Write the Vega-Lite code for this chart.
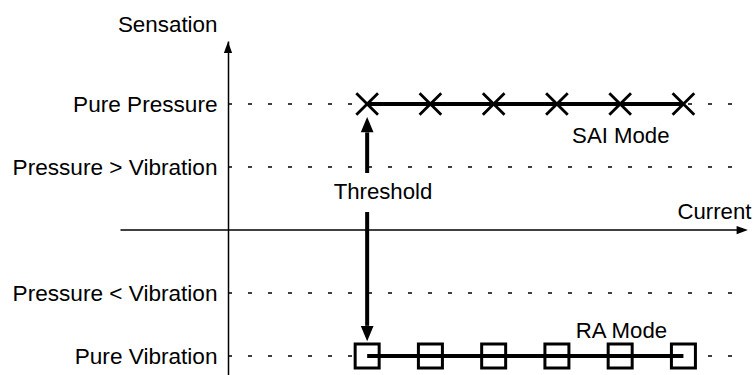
{
  "$schema": "https://vega.github.io/schema/vega-lite/v6.json",
  "width": 525,
  "height": 334,
  "autosize": {"type": "none"},
  "padding": {"left": 228, "top": 41, "right": 3, "bottom": 0},
  "background": "white",
  "config": {"view": {"stroke": null}, "font": "Liberation Sans"},
  "datasets": {
    "grid": [
      {"x": -1.2, "x2": 6.82, "y": 2},
      {"x": -1.2, "x2": 6.82, "y": 1},
      {"x": -1.2, "x2": 6.82, "y": -1},
      {"x": -1.2, "x2": 6.82, "y": -2}
    ],
    "xaxis": [{"x": -2.9, "x2": 6.85, "y": 0}],
    "shafts": [
      {"x": 1, "y": 0.905, "y2": 1.55},
      {"x": 1, "y": 0.286, "y2": -1.52}
    ],
    "heads": [
      {"x": 1, "y": 1.67, "dir": "up"},
      {"x": 1, "y": -1.64, "dir": "down"},
      {"x": -1.2, "y": 2.897, "dir": "axisup"},
      {"x": 6.93, "y": 0, "dir": "axisright"}
    ],
    "markers": [
      {"x": 1, "y": 2, "mode": "SAI"},
      {"x": 2, "y": 2, "mode": "SAI"},
      {"x": 3, "y": 2, "mode": "SAI"},
      {"x": 4, "y": 2, "mode": "SAI"},
      {"x": 5, "y": 2, "mode": "SAI"},
      {"x": 6, "y": 2, "mode": "SAI"},
      {"x": 1, "y": -2, "mode": "RA"},
      {"x": 2, "y": -2, "mode": "RA"},
      {"x": 3, "y": -2, "mode": "RA"},
      {"x": 4, "y": -2, "mode": "RA"},
      {"x": 5, "y": -2, "mode": "RA"},
      {"x": 6, "y": -2, "mode": "RA"}
    ],
    "notes": [
      {"x": 1.25, "y": 0.6, "text": "Threshold"},
      {"x": 6.49, "y": 0.29, "text": "Current"},
      {"x": 5.01, "y": 1.49, "text": "SAI Mode"},
      {"x": 5.02, "y": -1.6, "text": "RA Mode"}
    ]
  },
  "encoding": {
    "x": {"field": "x", "type": "quantitative", "scale": {"domain": [-1.2, 7.1], "nice": false, "zero": false}, "axis": null},
    "y": {
      "field": "y",
      "type": "quantitative",
      "scale": {"domain": [-2.3, 3], "nice": false, "zero": false},
      "axis": {
        "values": [2, 1, -1, -2],
        "labelExpr": "datum.value == 2 ? 'Pure Pressure' : datum.value == 1 ? 'Pressure > Vibration' : datum.value == -1 ? 'Pressure < Vibration' : 'Pure Vibration'",
        "ticks": false,
        "grid": false,
        "domain": true,
        "domainColor": "black",
        "domainWidth": 1.5,
        "labelFont": "Liberation Sans",
        "labelFontSize": 22.6,
        "labelColor": "black",
        "labelPadding": 11,
        "labelLimit": 0,
        "labelBound": false,
        "labelOverlap": false,
        "labelFlush": false,
        "title": "Sensation",
        "titleFont": "Liberation Sans",
        "titleFontSize": 22.4,
        "titleFontWeight": "normal",
        "titleColor": "black",
        "titleAngle": 0,
        "titleAlign": "right",
        "titleBaseline": "middle",
        "titleX": -11,
        "titleY": -17
      }
    }
  },
  "layer": [
    {
      "data": {"name": "grid"},
      "mark": {"type": "rule", "color": "black", "strokeWidth": 1.5, "strokeDash": [4, 16]},
      "encoding": {"x2": {"field": "x2"}}
    },
    {
      "data": {"name": "xaxis"},
      "mark": {"type": "rule", "color": "black", "strokeWidth": 1.5},
      "encoding": {"x2": {"field": "x2"}}
    },
    {
      "data": {"name": "shafts"},
      "mark": {"type": "rule", "color": "black", "strokeWidth": 4},
      "encoding": {"y2": {"field": "y2"}}
    },
    {
      "data": {"name": "heads"},
      "mark": {"type": "point", "filled": true, "color": "black", "opacity": 1, "size": 225, "strokeWidth": 0},
      "encoding": {
        "shape": {
          "field": "dir",
          "type": "nominal",
          "scale": {
            "domain": ["up", "down", "axisup", "axisright"],
            "range": ["M0,-1.05L0.85,1L-0.85,1Z", "M0,1.05L0.85,-1L-0.85,-1Z", "M0,-0.75L0.55,0.75L-0.55,0.75Z", "M0.75,0L-0.75,-0.55L-0.75,0.55Z"]
          },
          "legend": null
        }
      }
    },
    {
      "data": {"name": "markers"},
      "transform": [{"filter": "datum.mode == 'RA'"}],
      "mark": {"type": "point", "shape": "square", "filled": true, "fill": "white", "stroke": "black", "strokeWidth": 3, "size": 576, "opacity": 1}
    },
    {
      "data": {"name": "markers"},
      "transform": [{"filter": "datum.mode == 'SAI'"}],
      "mark": {"type": "point", "shape": "M-1,-1L1,1M-1,1L1,-1", "filled": false, "color": "black", "strokeWidth": 2.8, "size": 470, "opacity": 1}
    },
    {
      "data": {"name": "markers"},
      "mark": {"type": "line", "color": "black", "strokeWidth": 4},
      "encoding": {"detail": {"field": "mode"}}
    },
    {
      "data": {"name": "notes"},
      "mark": {"type": "text", "font": "Liberation Sans", "fontSize": 22.2, "color": "black", "align": "center", "baseline": "middle"},
      "encoding": {"text": {"field": "text"}}
    }
  ]
}
